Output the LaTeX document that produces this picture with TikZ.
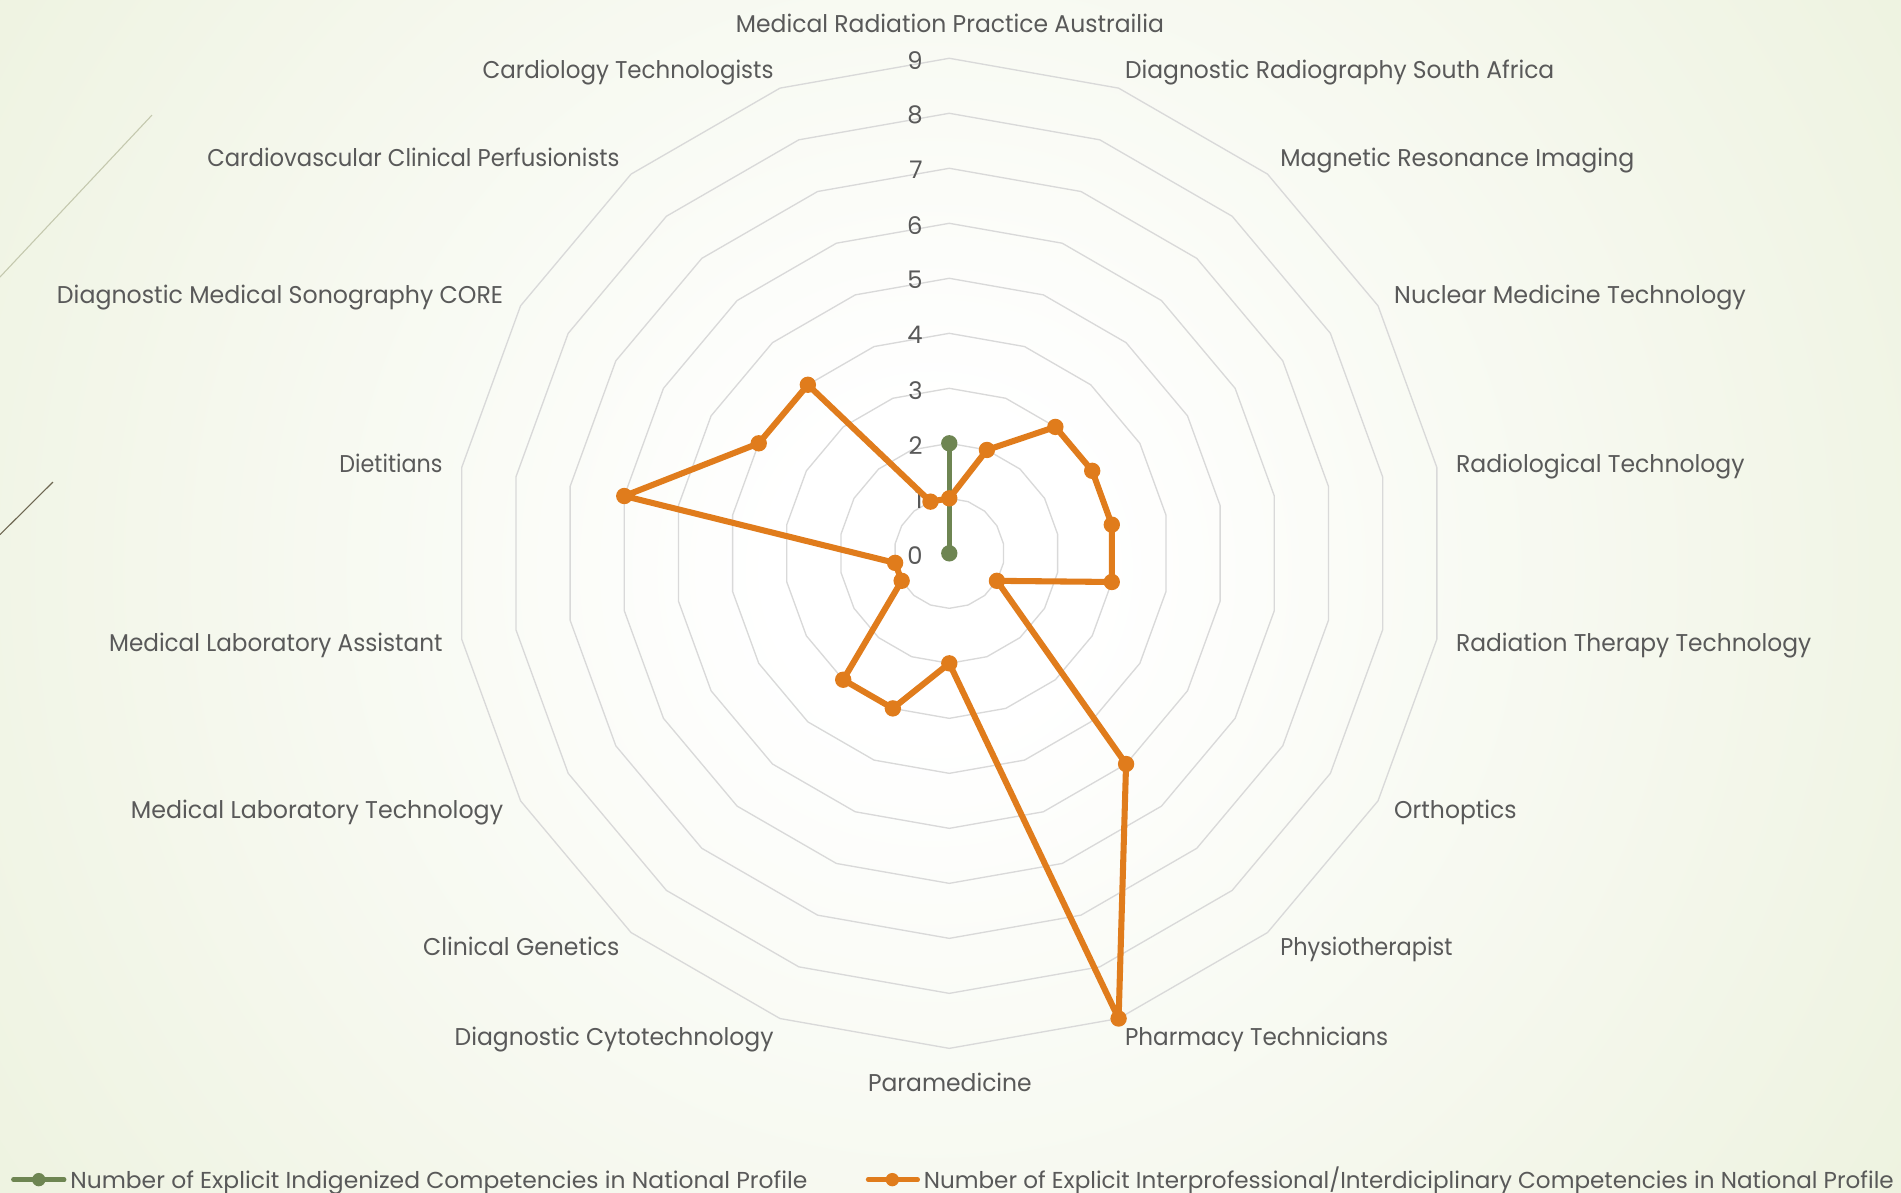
\documentclass[tikz,border=0pt]{standalone}
\usepackage{fontspec}
\setmainfont{Poppins}
\usepackage{graphicx}
\definecolor{bggreen}{HTML}{DEE7C4}
\definecolor{txtgray}{HTML}{595959}
\definecolor{gridgray}{HTML}{D9D9D9}
\definecolor{sorange}{HTML}{E07C1C}
\definecolor{sgreen}{HTML}{6E8552}
\definecolor{deco1}{HTML}{C4C8AE}
\definecolor{deco2}{HTML}{6E6752}
\pgfdeclareradialshading{bgshade}{\pgfpointorigin}{color(0bp)=(white); color(3bp)=(white); color(38bp)=(bggreen); color(50bp)=(bggreen)}
\newcommand{\fitw}[2]{\resizebox{#1pt}{\height}{#2}}
\begin{document}
\begin{tikzpicture}[x=1pt,y=-1pt,
  lbl/.style={text=txtgray,font=\fontsize{20}{24}\selectfont,inner sep=0pt,outer sep=0pt},
  leglbl/.style={text=txtgray,font=\fontsize{19}{22}\selectfont,inner sep=0pt,outer sep=0pt,anchor=base west},
  gridline/.style={draw=gridgray,line width=1.1pt,line join=round},
  oline/.style={draw=sorange,line width=5pt,line join=round,line cap=round},
  gline/.style={draw=sgreen,line width=4.6pt,line join=round,line cap=round},
  omark/.style={circle,fill=sorange,inner sep=0pt,minimum size=13.5pt},
  gmark/.style={circle,fill=sgreen,inner sep=0pt,minimum size=13.5pt}]
\def\cx{783}\def\cy{456.4}\def\u{45.37}
\useasboundingbox (0,0) rectangle (1568,984);
% background
\fill[bggreen] (0,0) rectangle (1568,984);
\begin{scope}
  \clip (0,0) rectangle (1568,984);
  \shade[shading=bgshade] (770,470) circle (1100);
\end{scope}
% decorative strokes
\coordinate (d1a) at (0,228.5); \coordinate (d1b) at (125.4,94.9);
\coordinate (d2a) at (0,441); \coordinate (d2b) at (43.7,397.6);
\draw[deco1,line width=0.9pt] (d1a) -- (d1b);
\draw[deco2,line width=0.9pt] (d2a) -- (d2b);
% grid rings
\foreach \k in {1,...,9}{
  \draw[gridline] ({\cx},{\cy-\u*\k})
    \foreach \a in {20,40,...,340}{ -- ({\cx+\u*\k*sin(\a)},{\cy-\u*\k*cos(\a)}) } -- cycle;
}
% tick labels
\foreach \k in {0,...,9}{
  \node[lbl,anchor=east] (t\k) at (761,{\cy+1.5-\u*\k}) {\k};
}
% category labels
\node[lbl,anchor=base] (c0) at (783.5,26.5) {\fitw{353}{Medical Radiation Practice Austrailia}};
\node[lbl,anchor=base west] (c1) at (928,64.5) {\fitw{354}{Diagnostic Radiography South Africa}};
\node[lbl,anchor=base west] (c2) at (1056,137.5) {\fitw{292}{Magnetic Resonance Imaging}};
\node[lbl,anchor=base west] (c3) at (1150,250.5) {\fitw{290}{Nuclear Medicine Technology}};
\node[lbl,anchor=base west] (c4) at (1201,389.5) {\fitw{238}{Radiological Technology}};
\node[lbl,anchor=base west] (c5) at (1201,537.5) {\fitw{293}{Radiation Therapy Technology}};
\node[lbl,anchor=base west] (c6) at (1150,675.5) {\fitw{101}{Orthoptics}};
\node[lbl,anchor=base west] (c7) at (1056,788.5) {\fitw{142}{Physiotherapist}};
\node[lbl,anchor=base west] (c8) at (928,862.5) {\fitw{217}{Pharmacy Technicians}};
\node[lbl,anchor=base] (c9) at (783.5,900.5) {\fitw{135}{Paramedicine}};
\node[lbl,anchor=base east] (c10) at (638,862.5) {\fitw{263}{Diagnostic Cytotechnology}};
\node[lbl,anchor=base east] (c11) at (511,788.5) {\fitw{162}{Clinical Genetics}};
\node[lbl,anchor=base east] (c12) at (415,675.5) {\fitw{307}{Medical Laboratory Technology}};
\node[lbl,anchor=base east] (c13) at (365,537.5) {\fitw{275}{Medical Laboratory Assistant}};
\node[lbl,anchor=base east] (c14) at (365,389.5) {\fitw{85}{Dietitians}};
\node[lbl,anchor=base east] (c15) at (415,250.5) {\fitw{368}{Diagnostic Medical Sonography CORE}};
\node[lbl,anchor=base east] (c16) at (511,137.5) {\fitw{340}{Cardiovascular Clinical Perfusionists}};
\node[lbl,anchor=base east] (c17) at (638,64.5) {\fitw{240}{Cardiology Technologists}};
% green series
\coordinate (g0) at (\cx,{\cy-2*\u});
\coordinate (gc) at (\cx,\cy);
\draw[gline] (g0) -- (gc);
\node[gmark] (gm0) at (g0) {};
\node[gmark] (gmc) at (gc) {};
% orange series
\foreach \v [count=\i from 0] in {1,2,3,3,3,3,1,5,9,2,3,3,1,1,6,4,4,1}{
  \coordinate (o\i) at ({\cx+\u*\v*sin(20*\i)},{\cy-\u*\v*cos(20*\i)});
}
\draw[oline] (o0) -- (o1) -- (o2) -- (o3) -- (o4) -- (o5) -- (o6) -- (o7) -- (o8)
  -- (o9) -- (o10) -- (o11) -- (o12) -- (o13) -- (o14) -- (o15) -- (o16) -- (o17) -- cycle;
\foreach \i in {0,...,17}{ \node[omark] (om\i) at (o\i) {}; }
% legend
\coordinate (l1a) at (11,973); \coordinate (l1b) at (53,973);
\draw[gline,line width=3.6pt,line cap=round] (l1a) -- (l1b);
\node[gmark,minimum size=11pt] (l1m) at (32,973) {};
\node[leglbl] (l1t) at (58,980) {\fitw{608}{Number of Explicit Indigenized Competencies in National Profile}};
\coordinate (l2a) at (716,973); \coordinate (l2b) at (757,973);
\draw[oline,line width=3.6pt,line cap=round] (l2a) -- (l2b);
\node[omark,minimum size=11pt] (l2m) at (736,973) {};
\node[leglbl] (l2t) at (762,980) {\fitw{800}{Number of Explicit Interprofessional/Interdiciplinary Competencies in National Profile}};
\end{tikzpicture}
\end{document}
